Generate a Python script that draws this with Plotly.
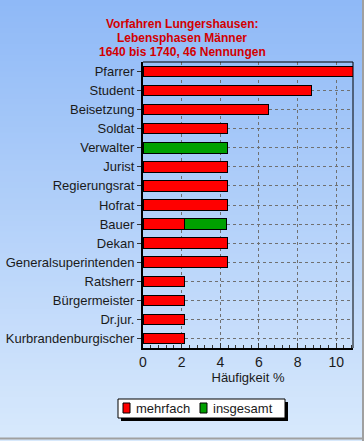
import plotly.graph_objects as go

categories = ["Pfarrer", "Student", "Beisetzung", "Soldat", "Verwalter", "Jurist",
              "Regierungsrat", "Hofrat", "Bauer", "Dekan", "Generalsuperintenden",
              "Ratsherr", "Bürgermeister", "Dr.jur.", "Kurbrandenburgischer"]
mehrfach = [10.87, 8.70, 6.52, 4.35, 0.0, 4.35, 4.35, 4.35, 2.17, 4.35, 4.35, 2.17, 2.17, 2.17, 2.17]
insgesamt = [0, 0, 0, 0, 4.35, 0, 0, 0, 2.17, 0, 0, 0, 0, 0, 0]
x_ticks = [0, 2, 4, 6, 8, 10]
series_names = ["mehrfach", "insgesamt"]
series_colors = ["#ff0000", "#00a000"]
title_lines = ["Vorfahren Lungershausen:", "Lebensphasen Männer", "1640 bis 1740, 46 Nennungen"]

W, H = 364, 441
l, r, t_, b = 143, 11, 62, 93
pw, ph = W - l - r, H - t_ - b
def px(xp):
    return (xp - l) / pw
def py(yp):
    return (H - b - yp) / ph

fig = go.Figure()
for name, vals, col in zip(series_names, [mehrfach, insgesamt], series_colors):
    fig.add_trace(go.Bar(y=categories, x=vals, orientation="h", name=name, showlegend=False,
                         marker=dict(color=col, line=dict(color="black", width=1))))

# gradient background stripes
shapes = []
n = 80
top = (0x8f, 0xb9, 0xf7)
bot = (0xd8, 0xe9, 0xfc)
for i in range(n):
    tt = i / (n - 1)
    c = tuple(int(round(top[k] + (bot[k] - top[k]) * tt)) for k in range(3))
    y_top = i * H / n
    y_bot = (i + 1) * H / n + 1
    shapes.append(dict(type="rect", xref="paper", yref="paper", layer="below",
                       x0=px(-2), x1=px(W + 2), y0=py(y_bot), y1=py(y_top),
                       fillcolor="rgb(%d,%d,%d)" % c, line=dict(width=0)))

# window edges
shapes.append(dict(type="line", xref="paper", yref="paper", x0=px(W - 1), x1=px(W - 1),
                   y0=py(-2), y1=py(H + 2), line=dict(color="#a0a0a0", width=2)))
shapes.append(dict(type="line", xref="paper", yref="paper", x0=px(-2), x1=px(W + 2),
                   y0=py(H - 2.5), y1=py(H - 2.5), line=dict(color="#a0a0a0", width=2)))
# thin top/right frame
shapes.append(dict(type="line", xref="paper", yref="paper", x0=0, x1=1, y0=1, y1=1,
                   line=dict(color="black", width=1)))
shapes.append(dict(type="line", xref="paper", yref="paper", x0=1, x1=1, y0=0, y1=1,
                   line=dict(color="black", width=1)))

# manual legend: shadow, box, swatches
lx0, lx1, ly0, ly1 = 118, 285, 399, 418
shapes.append(dict(type="rect", xref="paper", yref="paper",
                   x0=px(lx0 + 3), x1=px(lx1 + 3), y0=py(ly1 + 3), y1=py(ly0 + 3),
                   fillcolor="black", line=dict(width=0)))
shapes.append(dict(type="rect", xref="paper", yref="paper",
                   x0=px(lx0), x1=px(lx1), y0=py(ly1), y1=py(ly0),
                   fillcolor="white", line=dict(color="black", width=1)))
annotations = []
sw_x = [123, 200]
for name, col, sx in zip(series_names, series_colors, sw_x):
    shapes.append(dict(type="rect", xref="paper", yref="paper",
                       x0=px(sx), x1=px(sx + 7), y0=py(413), y1=py(403),
                       fillcolor=col, line=dict(color="black", width=1)))
    annotations.append(dict(text=name, xref="paper", yref="paper", x=px(sx + 11), y=py(408.5),
                            xanchor="left", yanchor="middle", showarrow=False,
                            font=dict(size=13, color="#1a1a1a")))

title_y = [24, 38, 52]
for line, yy in zip(title_lines, title_y):
    annotations.append(dict(text="<b>%s</b>" % line, xref="paper", yref="paper",
                            x=px(W / 2), y=py(yy), xanchor="center", yanchor="middle",
                            showarrow=False,
                            font=dict(size=12, color="#d40000")))

fig.update_layout(
    width=W, height=H,
    margin=dict(l=l, r=r, t=t_, b=b, pad=0, autoexpand=False),
    paper_bgcolor="#c0d8f8", plot_bgcolor="rgba(0,0,0,0)",
    barmode="stack", bargap=0.45,
    shapes=shapes, annotations=annotations,
    font=dict(family="Liberation Sans, Arial, sans-serif", size=13, color="#1a1a1a"),
    showlegend=False,
)
fig.update_xaxes(range=[0, 10.87], tickvals=x_ticks, ticks="inside", ticklen=5, tickcolor="#333",
                 minor=dict(dtick=0.4, ticks="inside", ticklen=3, tickcolor="#333", showgrid=False),
                 showgrid=True, gridcolor="#707070", griddash="3px,3px", gridwidth=1,
                 showline=True, linecolor="black", linewidth=2, mirror=False, zeroline=False,
                 automargin=False,
                 title=dict(text="Häufigkeit %", standoff=4, font=dict(size=13)),
                 tickfont=dict(size=14))
fig.update_yaxes(autorange="reversed", ticks="outside", ticklen=4, tickcolor="#333",
                 showgrid=True, gridcolor="#707070", griddash="3px,3px", gridwidth=1,
                 showline=True, linecolor="black", linewidth=2, tickfont=dict(size=13),
                 automargin=False)
fig.write_html("out.html", config={"displayModeBar": False, "staticPlot": True},
               post_script="document.body.style.margin='0px';document.body.style.overflow='hidden';")
